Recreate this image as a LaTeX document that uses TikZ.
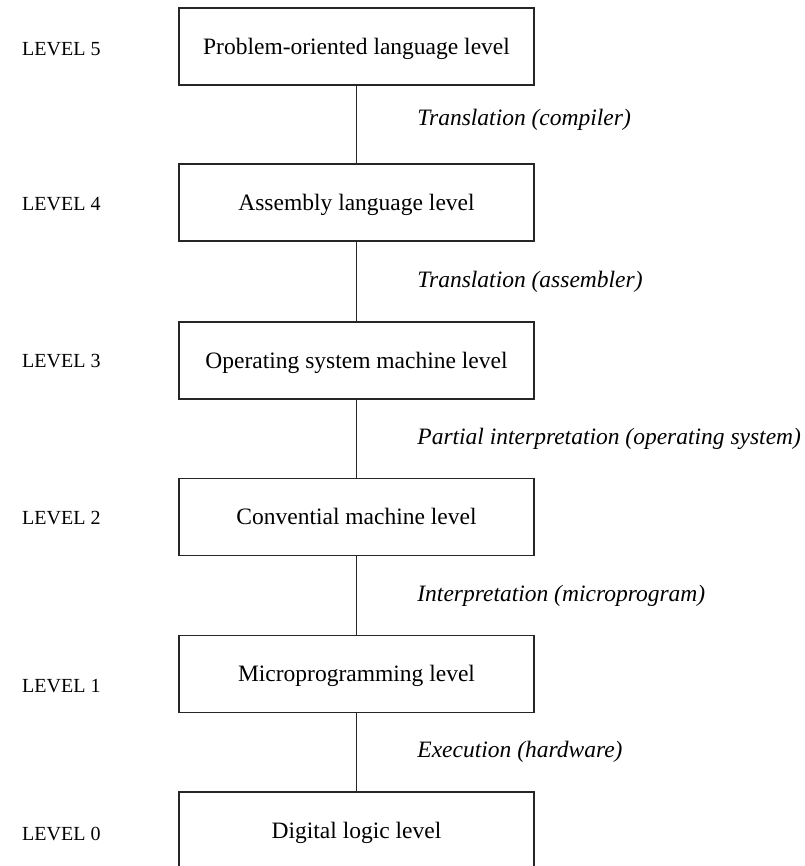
\documentclass[tikz,border=0pt]{standalone}
\usepackage{fontspec}
\setmainfont{Liberation Serif}
\begin{document}
\begin{tikzpicture}[x=1pt,y=-1pt,
  levelbox/.style={draw=black!85, line width=1.8pt, minimum width=355pt, minimum height=77pt,
    inner sep=0pt, text height=15.6pt, text depth=0pt,
    font=\fontsize{23.5}{28}\selectfont},
  levelname/.style={anchor=west, inner sep=0pt, text height=13.3pt, text depth=0pt,
    font=\fontsize{20}{24}\selectfont},
  link/.style={draw=black!85, line width=1.8pt},
  how/.style={anchor=west, inner sep=0pt, xshift=60pt,
    font=\fontsize{23.5}{28}\selectfont\itshape}]
  \useasboundingbox (0,0) rectangle (804,866);
  \clip (0,0) rectangle (804,866);

  % the six machine levels, top to bottom
  \node[levelbox] (b5) at (356.5,46.5) {Problem-oriented language level};
  \node[levelbox] (b4) at (356.5,202.5) {Assembly language level};
  \node[levelbox] (b3) at (356.5,360.5) {Operating system machine level};
  \node[levelbox] (b2) at (356.5,517) {Convential machine level};
  \node[levelbox] (b1) at (356.5,674) {Microprogramming level};
  \node[levelbox] (b0) at (356.5,830.5) {Digital logic level};

  % level numbers on the left
  \node[levelname] (l5) at (22,48.5) {LEVEL 5};
  \node[levelname] (l4) at (22,203.5) {LEVEL 4};
  \node[levelname] (l3) at (22,361) {LEVEL 3};
  \node[levelname] (l2) at (22,517.5) {LEVEL 2};
  \node[levelname] (l1) at (22,686) {LEVEL 1};
  \node[levelname] (l0) at (22,834) {LEVEL 0};

  % how each level is mapped onto the one below
  \draw[link] (b5) -- node[how, yshift=5pt] {Translation (compiler)} (b4);
  \draw[link] (b4) -- node[how] {Translation (assembler)} (b3);
  \draw[link] (b3) -- node[how] {Partial interpretation (operating system)} (b2);
  \draw[link] (b2) -- node[how] {Interpretation (microprogram)} (b1);
  \draw[link] (b1) -- node[how] {Execution (hardware)} (b0);
\end{tikzpicture}
\end{document}
